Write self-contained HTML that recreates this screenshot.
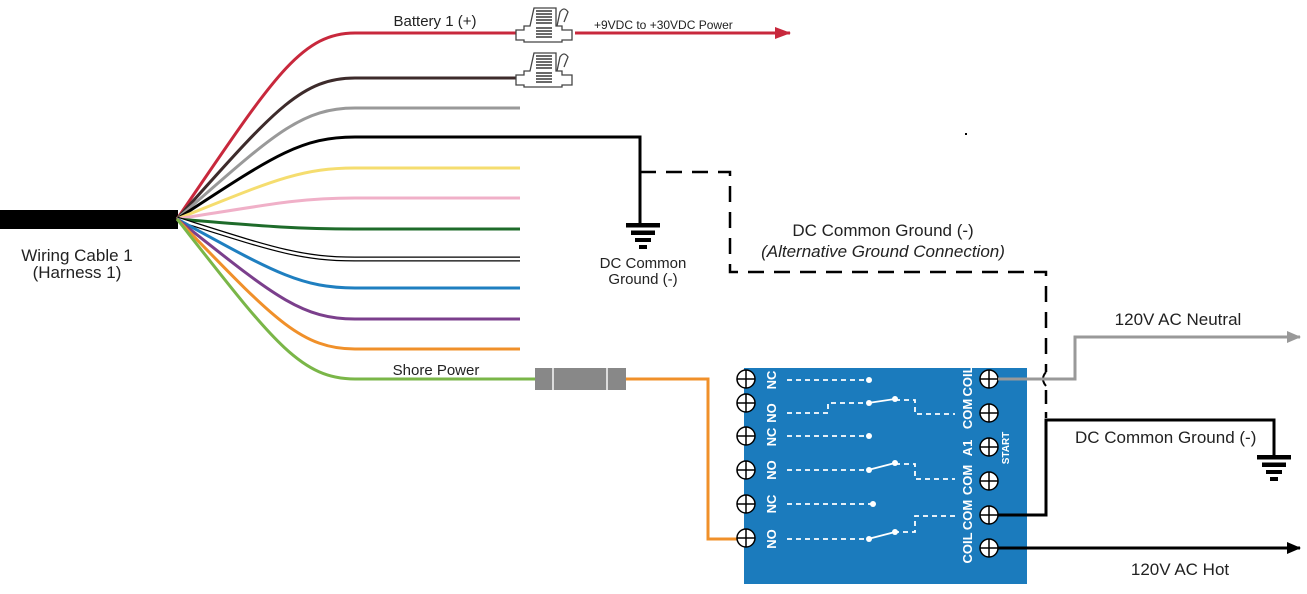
<!DOCTYPE html>
<html><head><meta charset="utf-8"><style>
html,body{margin:0;padding:0;background:#fff}
svg{display:block}
text{font-family:"Liberation Sans",sans-serif;fill:#222}
</style></head><body>
<svg width="1307" height="594" viewBox="0 0 1307 594" xmlns="http://www.w3.org/2000/svg">
<defs>
<marker id="ar" markerWidth="16" markerHeight="12" refX="15" refY="6" orient="auto" markerUnits="userSpaceOnUse"><path d="M0,0 L16,6 L0,12 z" fill="#c8283c"/></marker>
<marker id="ag" markerWidth="14" markerHeight="12" refX="13" refY="6" orient="auto" markerUnits="userSpaceOnUse"><path d="M0,0 L14,6 L0,12 z" fill="#999"/></marker>
<marker id="ab" markerWidth="14" markerHeight="12" refX="13" refY="6" orient="auto" markerUnits="userSpaceOnUse"><path d="M0,0 L14,6 L0,12 z" fill="#000"/></marker>
<g id="fuse">
<path d="M0,12 L8,12 L8,8 L14,8 L18,-10 L40,-10 L40,8 L46,8 L46,12 L56,12 L56,22 L46,22 L46,24 L8,24 L8,22 L0,22 z" fill="#fff" stroke="#444" stroke-width="1.3"/>
<g stroke="#444" stroke-width="1.6"><line x1="20" y1="-7" x2="36" y2="-7"/><line x1="20" y1="-4" x2="36" y2="-4"/><line x1="20" y1="-1" x2="36" y2="-1"/><line x1="20" y1="2" x2="36" y2="2"/><line x1="20" y1="5" x2="36" y2="5"/><line x1="20" y1="10" x2="36" y2="10"/><line x1="20" y1="13" x2="36" y2="13"/><line x1="20" y1="16" x2="36" y2="16"/><line x1="20" y1="19" x2="36" y2="19"/></g>
<path d="M41,8 L44,-6 Q48,-12 52,-6 L48,4" fill="none" stroke="#444" stroke-width="1.3"/>
</g>
<g id="term"><circle r="9" fill="#fff" stroke="#000" stroke-width="1.5"/><line x1="-9" y1="0" x2="9" y2="0" stroke="#000" stroke-width="1.5"/><line x1="0" y1="-9" x2="0" y2="9" stroke="#000" stroke-width="1.5"/></g>
<g id="gnd" fill="#000"><rect x="-17" y="0" width="34" height="4.5"/><rect x="-12" y="7.5" width="24" height="4.5"/><rect x="-8" y="15" width="16" height="4"/><rect x="-4" y="22" width="8" height="4"/></g>
</defs>

<rect x="0" y="210" width="178" height="19" fill="#000"/>

<g fill="none" stroke-width="3">
<path d="M177,219 C272,80 300,33 355,33 L520,33" stroke="#c8283c"/>
<path d="M177,219 C272,113 300,78 355,78 L520,78" stroke="#3d2b2b"/>
<path d="M177,219 C272,136 300,108 355,108 L520,108" stroke="#999"/>
<path d="M177,219 C272,157 300,137 355,137 L640,137 L640,225" stroke="#000"/>
<path d="M177,219 C272,181 300,168 355,168 L520,168" stroke="#f5dd6f"/>
<path d="M177,219 C272,204 300,198 355,198 L520,198" stroke="#f0b0c8"/>
<path d="M177,219 C272,227 300,229 355,229 L520,229" stroke="#1e6b2a"/>
<path d="M177,219 C272,249 300,259 355,259 L520,259" stroke="#000" stroke-width="5"/>
<path d="M177,219 C272,249 300,259 355,259 L520,259" stroke="#fff" stroke-width="2.5"/>
<path d="M177,219 C272,271 300,288 355,288 L520,288" stroke="#1f7fc0"/>
<path d="M177,219 C272,294 300,319 355,319 L520,319" stroke="#7b3f8c"/>
<path d="M177,219 C272,317 300,349 355,349 L520,349" stroke="#f0902a"/>
<path d="M177,219 C272,340 300,379 355,379 L535,379" stroke="#7ab648"/>
</g>
<line x1="575" y1="33" x2="790" y2="33" stroke="#c8283c" stroke-width="3" marker-end="url(#ar)"/>
<use href="#fuse" x="516" y="18"/>
<use href="#fuse" x="516" y="63"/>

<rect x="535" y="368" width="91" height="22" fill="#888"/>
<line x1="553" y1="368" x2="553" y2="390" stroke="#ddd" stroke-width="2"/>
<line x1="607" y1="368" x2="607" y2="390" stroke="#ddd" stroke-width="2"/>
<path d="M626,379 L708,379 L708,539 L744,539" fill="none" stroke="#f0902a" stroke-width="3"/>

<use href="#gnd" x="643" y="223"/>
<text x="643" y="268" font-size="15" text-anchor="middle">DC Common</text>
<text x="643" y="284" font-size="15" text-anchor="middle">Ground (-)</text>

<path d="M640,172 L730,172 L730,272 L1046,272 L1046,372" fill="none" stroke="#000" stroke-width="2.5" stroke-dasharray="16,10"/>
<path d="M1046,372 Q1040,379 1046,386" fill="none" stroke="#000" stroke-width="2"/>
<line x1="1046" y1="390" x2="1046" y2="418" stroke="#000" stroke-width="2.5" stroke-dasharray="14,8"/>
<text x="883" y="236" font-size="17" text-anchor="middle">DC Common Ground (-)</text>
<text x="883" y="257" font-size="17" font-style="italic" text-anchor="middle">(Alternative Ground Connection)</text>

<rect x="744" y="368" width="283" height="216" fill="#1b7bbd"/>
<g stroke="#fff" stroke-width="1.8" stroke-dasharray="5,4" fill="none">
<path d="M787,380 L868,380"/>
<path d="M787,413 L828,413 L828,403 L868,403"/>
<path d="M895,400 L915,400 L915,414 L955,414"/>
<path d="M787,436 L868,436"/>
<path d="M787,470 L868,470"/>
<path d="M895,464 L915,464 L915,479 L955,479"/>
<path d="M787,504 L872,504"/>
<path d="M787,539 L868,539"/>
<path d="M955,516 L915,516 L915,532 L895,532"/>
</g>
<g stroke="#fff" stroke-width="1.8">
<line x1="868" y1="403" x2="895" y2="399"/>
<line x1="868" y1="470" x2="895" y2="463"/>
<line x1="868" y1="539" x2="895" y2="532"/>
</g>
<g fill="#fff">
<circle cx="869" cy="380" r="3"/><circle cx="869" cy="403" r="3"/><circle cx="895" cy="399" r="3"/>
<circle cx="869" cy="436" r="3"/><circle cx="869" cy="470" r="3"/><circle cx="895" cy="463" r="3"/>
<circle cx="873" cy="504" r="3"/><circle cx="869" cy="539" r="3"/><circle cx="895" cy="532" r="3"/>
</g>
<g font-size="13" font-weight="bold" text-anchor="middle">
<text transform="translate(776,380) rotate(-90)" style="fill:#fff">NC</text>
<text transform="translate(776,413) rotate(-90)" style="fill:#fff">NO</text>
<text transform="translate(776,437) rotate(-90)" style="fill:#fff">NC</text>
<text transform="translate(776,470) rotate(-90)" style="fill:#fff">NO</text>
<text transform="translate(776,504) rotate(-90)" style="fill:#fff">NC</text>
<text transform="translate(776,539) rotate(-90)" style="fill:#fff">NO</text>
<text transform="translate(972,381) rotate(-90)" style="fill:#fff">COIL</text>
<text transform="translate(972,414) rotate(-90)" style="fill:#fff">COM</text>
<text transform="translate(972,448) rotate(-90)" style="fill:#fff">A1</text>
<text transform="translate(972,480) rotate(-90)" style="fill:#fff">COM</text>
<text transform="translate(972,515) rotate(-90)" style="fill:#fff">COM</text>
<text transform="translate(972,548) rotate(-90)" style="fill:#fff">COIL</text>
<text transform="translate(1009,448) rotate(-90)" font-size="10" style="fill:#fff">START</text>
</g>
<use href="#term" x="746" y="379"/><use href="#term" x="746" y="403"/><use href="#term" x="746" y="436"/>
<use href="#term" x="746" y="470"/><use href="#term" x="746" y="504"/><use href="#term" x="746" y="538"/>
<use href="#term" x="989" y="379"/><use href="#term" x="989" y="413"/><use href="#term" x="989" y="447"/>
<use href="#term" x="989" y="481"/><use href="#term" x="989" y="515"/><use href="#term" x="989" y="548"/>

<path d="M998,379 L1075,379 L1075,337 L1300,337" fill="none" stroke="#999" stroke-width="3" marker-end="url(#ag)"/>
<path d="M998,515 L1046,515 L1046,420 L1274,420 L1274,455" fill="none" stroke="#000" stroke-width="3"/>
<use href="#gnd" x="1274" y="455"/>
<line x1="998" y1="548" x2="1300" y2="548" stroke="#000" stroke-width="3" marker-end="url(#ab)"/>

<text x="435" y="26" font-size="15" text-anchor="middle">Battery 1 (+)</text>
<text x="594" y="29" font-size="12">+9VDC to +30VDC Power</text>
<text x="77" y="261" font-size="17" text-anchor="middle">Wiring Cable 1</text>
<text x="77" y="278" font-size="17" text-anchor="middle">(Harness 1)</text>
<text x="436" y="375" font-size="15" text-anchor="middle">Shore Power</text>
<text x="1178" y="325" font-size="17" text-anchor="middle">120V AC Neutral</text>
<text x="1075" y="443" font-size="17">DC Common Ground (-)</text>
<text x="1180" y="575" font-size="17" text-anchor="middle">120V AC Hot</text>
<rect x="965" y="133" width="2" height="2" fill="#000"/>
</svg>
</body></html>
